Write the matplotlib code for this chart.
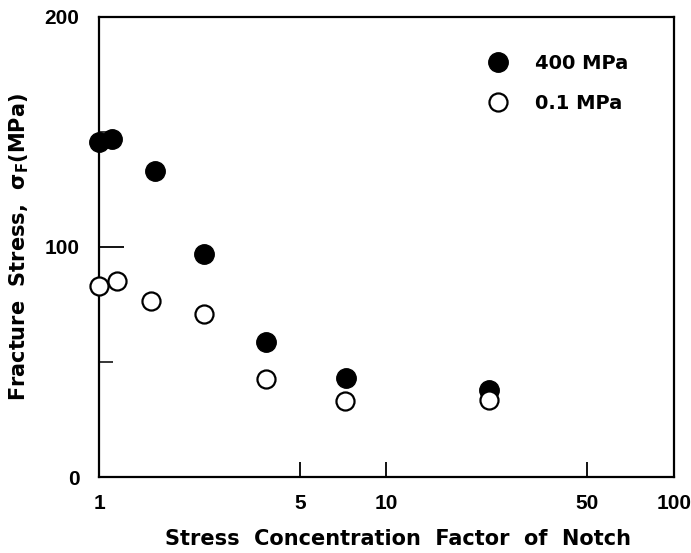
import numpy as np
import matplotlib.pyplot as plt
from matplotlib.ticker import FixedLocator, FixedFormatter, NullLocator

kt_400 = [1.0, 1.11, 1.57, 2.32, 3.81, 7.23, 22.7]
sf_400 = [145.5, 147.0, 133.0, 97.0, 58.5, 43.0, 38.0]

kt_01 = [1.0, 1.155, 1.52, 2.32, 3.82, 7.2, 22.7]
sf_01 = [83.0, 85.0, 76.5, 71.0, 42.5, 33.0, 33.5]

xticks = [1, 5, 10, 50, 100]
yticks = [0, 100, 200]
yminor = [50, 150]

plt.rcParams['font.family'] = ['DejaVu Sans']
plt.rcParams['font.weight'] = 'bold'
plt.rcParams['mathtext.default'] = 'regular'

fig = plt.figure(figsize=(6.91, 5.53), dpi=100)
ax = fig.add_axes([0.1433, 0.1374, 0.832, 0.832])

ax.plot(kt_400, sf_400, 'o', ms=14, color='black', mec='black',
        label='400 MPa', clip_on=False, zorder=5)
ax.plot(kt_01, sf_01, 'o', ms=13, mfc='white', mec='black', mew=1.6,
        label='0.1 MPa', clip_on=False, zorder=5)

ax.set_xscale('log')
ax.set_xlim(1, 100)
ax.set_ylim(0, 200)

ax.xaxis.set_major_locator(FixedLocator(xticks))
ax.xaxis.set_major_formatter(FixedFormatter([str(t) for t in xticks]))
ax.xaxis.set_minor_locator(NullLocator())
ax.set_yticks(yticks)
ax.set_yticks(yminor, minor=True)

ax.tick_params(axis='x', which='major', direction='in', length=11, width=1.3,
               labelsize=15, pad=12, top=False)
ax.tick_params(axis='y', which='major', direction='in', length=18, width=1.3,
               labelsize=15, pad=14, right=False)
ax.tick_params(axis='y', which='minor', direction='in', length=10, width=1.1,
               right=False)
for lab in ax.get_xticklabels() + ax.get_yticklabels():
    lab.set_family('Liberation Sans')

for s in ax.spines.values():
    s.set_linewidth(1.6)

ax.set_xlabel('Stress  Concentration  Factor  of  Notch', fontsize=15,
              fontweight='bold')
ax.xaxis.set_label_coords(0.52, -0.113)
ax.set_ylabel(r'Fracture  Stress,  $\sigma_F$(MPa)', fontsize=15,
              fontweight='bold', labelpad=10)

leg = ax.legend(loc='upper left', frameon=False, fontsize=14,
                labelspacing=1.1, handletextpad=1.3, handlelength=1.2,
                bbox_to_anchor=(0.66, 0.937), borderaxespad=0.0)

fig.savefig('out.png', dpi=100)
